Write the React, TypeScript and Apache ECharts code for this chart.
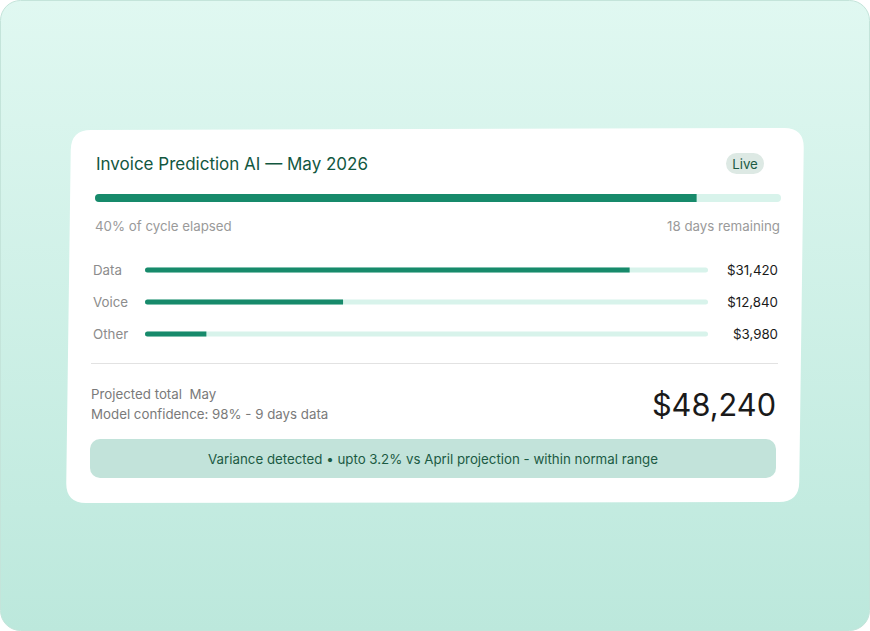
import React, { useEffect, useRef } from "react";
import * as echarts from "echarts";

// ---- data ----
const categories = ["Data", "Voice", "Other"];
const amounts = [31420, 12840, 3980];
const amountScaleMax = 36500;
const cycleBarValue = 87.7; // top progress bar, percent of track
const cycleElapsedText = "40% of cycle elapsed";
const daysRemainingText = "18 days remaining";
const projectedTotal = 48240;
const titleText = "Invoice Prediction AI — May 2026";
const bannerText = "Variance detected • upto 3.2% vs April projection - within normal range";

const fmt = (v: number) => "$" + v.toLocaleString("en-US");

function roundedPoly(pts: number[][], r: number) {
  let d = "";
  const n = pts.length;
  for (let i = 0; i < n; i++) {
    const p0 = pts[(i - 1 + n) % n];
    const p1 = pts[i];
    const p2 = pts[(i + 1) % n];
    const l0 = Math.hypot(p0[0] - p1[0], p0[1] - p1[1]);
    const l2 = Math.hypot(p2[0] - p1[0], p2[1] - p1[1]);
    const a = [p1[0] + ((p0[0] - p1[0]) * r) / l0, p1[1] + ((p0[1] - p1[1]) * r) / l0];
    const b = [p1[0] + ((p2[0] - p1[0]) * r) / l2, p1[1] + ((p2[1] - p1[1]) * r) / l2];
    d += (i === 0 ? "M" : "L") + a[0].toFixed(2) + " " + a[1].toFixed(2);
    d += " Q" + p1[0] + " " + p1[1] + " " + b[0].toFixed(2) + " " + b[1].toFixed(2) + " ";
  }
  return d + "Z";
}

const cardPath = roundedPoly(
  [
    [71, 130],
    [804, 128],
    [799, 502],
    [66, 503],
  ],
  20
);
echarts.graphic.registerShape("cardShape", echarts.graphic.extendPath(cardPath, {}));

const FONT = "Inter, 'Noto Sans', sans-serif";
const SMALL = 13.3;

export default function App() {
  const ref = useRef<HTMLDivElement>(null);
  useEffect(() => {
    document.body.style.margin = "0";
    const chart = echarts.init(ref.current!, null, { renderer: "svg" });
    chart.setOption({
      animation: false,
      textStyle: { fontFamily: FONT },
      graphic: [
        {
          type: "rect",
          z: -10,
          shape: { x: 0.5, y: 0.5, width: 869, height: 630, r: 20 },
          style: {
            fill: new echarts.graphic.LinearGradient(0, 0, 0, 1, [
              { offset: 0, color: "#e0f8f1" },
              { offset: 1, color: "#bce8dc" },
            ]),
            stroke: "#c4e4da",
            lineWidth: 1,
          },
        },
        { type: "cardShape", z: -9, x: 0, y: 0, style: { fill: "#ffffff" } },
        {
          type: "text",
          style: { text: titleText, x: 96, y: 164, fill: "#12573f", font: `400 17px ${FONT}`, verticalAlign: "middle" },
        },
        {
          type: "rect",
          shape: { x: 726, y: 153, width: 38, height: 21, r: 10.5 },
          style: { fill: "#dde9e4" },
        },
        {
          type: "text",
          style: { text: "Live", x: 745, y: 164, fill: "#1b5a43", font: `400 ${SMALL}px ${FONT}`, align: "center", verticalAlign: "middle" },
        },
        {
          type: "text",
          style: { text: cycleElapsedText, x: 95, y: 226, fill: "#9a9a9a", font: `400 ${SMALL}px ${FONT}`, verticalAlign: "middle" },
        },
        {
          type: "text",
          style: { text: daysRemainingText, x: 780, y: 226, fill: "#9a9a9a", font: `400 ${SMALL}px ${FONT}`, align: "right", verticalAlign: "middle" },
        },
        {
          type: "line",
          shape: { x1: 91, y1: 363.5, x2: 778, y2: 363.5 },
          style: { stroke: "#e2e2e2", lineWidth: 1 },
        },
        {
          type: "text",
          style: { text: "Projected total  May", x: 91, y: 394, fill: "#7a7a7a", font: `400 ${SMALL}px ${FONT}`, verticalAlign: "middle" },
        },
        {
          type: "text",
          style: { text: "Model confidence: 98% - 9 days data", x: 91, y: 414, fill: "#7a7a7a", font: `400 ${SMALL}px ${FONT}`, verticalAlign: "middle" },
        },
        {
          type: "text",
          style: { text: fmt(projectedTotal), x: 776, y: 404, fill: "#1a1a1a", font: `400 30.7px ${FONT}`, align: "right", verticalAlign: "middle" },
        },
        {
          type: "rect",
          shape: { x: 90, y: 439, width: 686, height: 39, r: 10 },
          style: { fill: "#c2e3da" },
        },
        {
          type: "text",
          style: { text: bannerText, x: 433, y: 459, fill: "#1b5a43", font: `400 ${SMALL}px ${FONT}`, align: "center", verticalAlign: "middle" },
        },
      ],
      grid: [
        { left: 95, width: 686, top: 194, height: 8 },
        { left: 145, width: 563, top: 254, height: 96 },
      ],
      xAxis: [
        { gridIndex: 0, type: "value", min: 0, max: 100, show: false },
        { gridIndex: 1, type: "value", min: 0, max: amountScaleMax, show: false },
      ],
      yAxis: [
        { gridIndex: 0, type: "category", data: ["cycle"], show: false },
        {
          gridIndex: 1,
          type: "category",
          data: categories,
          inverse: true,
          axisLine: { show: false },
          axisTick: { show: false },
          axisLabel: { align: "left", margin: 52, color: "#8c8c8c", fontSize: SMALL, fontFamily: FONT },
        },
        {
          gridIndex: 1,
          type: "category",
          position: "right",
          data: amounts.map(fmt),
          inverse: true,
          axisLine: { show: false },
          axisTick: { show: false },
          axisLabel: { align: "right", margin: 70, color: "#1a1a1a", fontSize: SMALL, fontFamily: FONT },
        },
      ],
      series: [
        {
          type: "bar",
          xAxisIndex: 0,
          yAxisIndex: 0,
          data: [cycleBarValue],
          barWidth: 8,
          showBackground: true,
          backgroundStyle: { color: "#d8f3eb", borderRadius: 4 },
          itemStyle: { color: "#178a6b", borderRadius: [4, 0, 0, 4] },
        },
        {
          type: "bar",
          xAxisIndex: 1,
          yAxisIndex: 1,
          data: amounts,
          barWidth: 5,
          showBackground: true,
          backgroundStyle: { color: "#d8f3eb", borderRadius: 2.5 },
          itemStyle: { color: "#178a6b", borderRadius: [2.5, 0, 0, 2.5] },
        },
      ],
    });
    return () => chart.dispose();
  }, []);
  return <div ref={ref} style={{ width: 870, height: 631 }} />;
}
